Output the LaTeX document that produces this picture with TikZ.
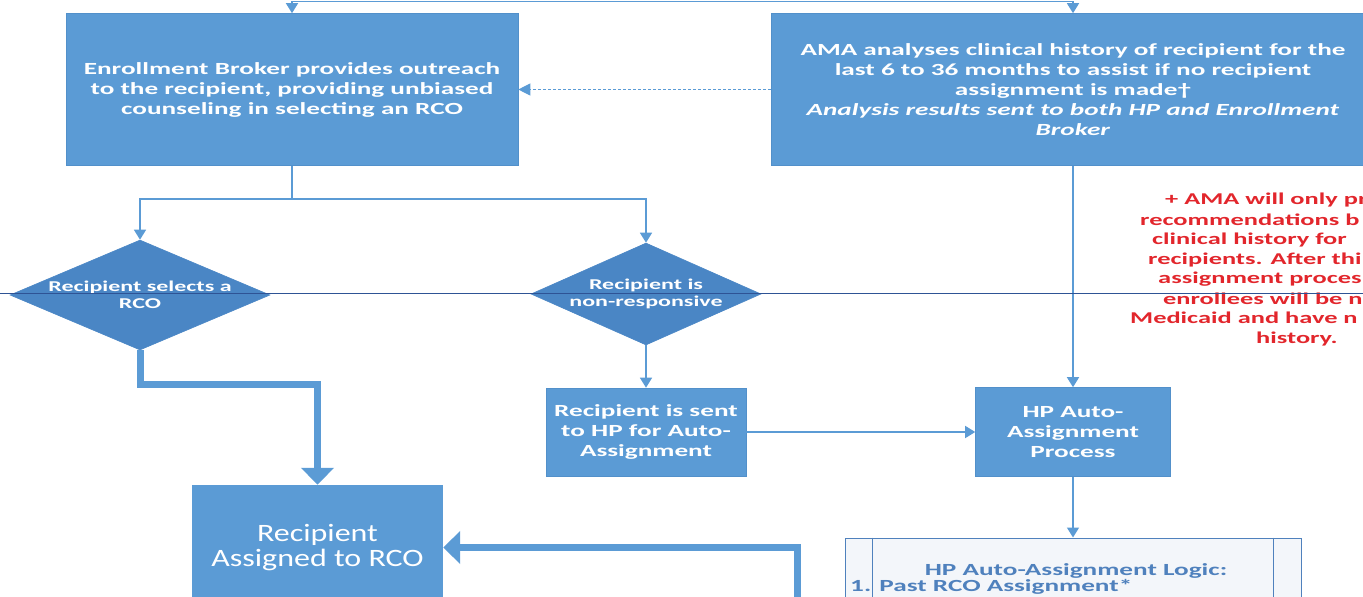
\documentclass[tikz,border=0pt]{standalone}
\usepackage{fontspec}
\usepackage{tikz}
\usetikzlibrary{arrows.meta}
\usetikzlibrary{shapes.geometric}
\setmainfont{Carlito}
\newfontfamily\boxfont[FakeStretch=1.6]{Carlito}
\newfontfamily\bigfont[FakeStretch=1.28]{Carlito}
\definecolor{boxblue}{HTML}{5B9BD5}
\definecolor{boxedge}{HTML}{5290CA}
\definecolor{diamondblue}{HTML}{4A86C5}
\definecolor{lineblue}{HTML}{5B9BD5}
\definecolor{logicblue}{HTML}{4F81BD}
\definecolor{logicfill}{HTML}{F3F6FA}
\definecolor{notered}{HTML}{E2262C}
\definecolor{sepblue}{HTML}{2E5395}

\begin{document}
\begin{tikzpicture}[x=1pt, y=-1pt,
        box_style/.style={rectangle,draw=boxedge,line width=0.6pt,fill=boxblue,text=white,align=center,inner sep=0pt,font=\boxfont\bfseries\fontsize{17}{20}\selectfont},
        decision_style/.style={diamond,draw=diamondblue,line width=0.6pt,fill=diamondblue,text=white,align=center,inner sep=0pt,font=\boxfont\bfseries\fontsize{15}{17}\selectfont},
        big_box_style/.style={rectangle,fill=boxblue,text=white,align=center,inner sep=0pt,font=\bigfont\fontsize{25}{25}\selectfont},
        logic_style/.style={rectangle,draw=logicblue,line width=1pt,fill=logicfill,inner sep=0pt},
        logic_text_style/.style={text=logicblue,inner sep=0pt,font=\boxfont\bfseries\fontsize{17}{20}\selectfont},
        note_style/.style={text=notered,inner sep=0pt,anchor=west,font=\boxfont\bfseries\fontsize{16.5}{20}\selectfont},
        edge_style/.style={draw=lineblue, line width=1.5pt, -{Triangle[width=12pt,length=10pt]}},
        thick_edge_style/.style={draw=lineblue, line width=7pt, -{Triangle[width=32pt,length=17pt]}},
        dashed_edge_style/.style={draw=lineblue, line width=1pt, dash pattern=on 3pt off 2pt, -{Triangle[width=12pt,length=12pt]}},
        line_style/.style={draw=lineblue, line width=1.5pt},
        sep_style/.style={draw=sepblue, line width=1pt}]

        \useasboundingbox (0,0) rectangle (1363,597);
        \clip (0,0) rectangle (1363,597);

        \node [box_style,minimum width=452,minimum height=152] (enroll) at (292,89.5) {Enrollment Broker provides outreach\\to the recipient, providing unbiased\\counseling in selecting an RCO};

        \node [box_style,minimum width=604,minimum height=152] (ama) at (1073,89.5) {AMA analyses clinical history of recipient for the\\last 6 to 36 months to assist if no recipient\\assignment is made\textdagger\\\textit{Analysis results sent to both HP and Enrollment}\\\textit{Broker}};

        \node [decision_style,aspect=2.36,minimum width=260,minimum height=110] (select) at (140,295) {Recipient selects a\\RCO};

        \node [decision_style,aspect=2.25,minimum width=230,minimum height=102] (nonresp) at (646,294) {Recipient is\\non-responsive};

        \node [box_style,minimum width=200,minimum height=88] (sent) at (646,432) {Recipient is sent\\to HP for Auto-\\Assignment};

        \node [box_style,minimum width=195,minimum height=89] (hpauto) at (1073,432) {HP Auto-\\Assignment\\Process};

        \node [big_box_style,minimum width=251,minimum height=125] (assigned) at (317.5,547.5) {Recipient\\Assigned to RCO};

        \node [logic_style,minimum width=456,minimum height=120] (logic) at (1073,598) {};
        \draw [draw=logicblue,line width=1pt] ([xshift=28pt]logic.north west) -- ([xshift=28pt]logic.south west);
        \draw [draw=logicblue,line width=1pt] ([xshift=-28pt]logic.north east) -- ([xshift=-28pt]logic.south east);
        \node [logic_text_style] (logic_title) at (1076,571) {HP Auto-Assignment Logic:};
        \node [logic_text_style,anchor=west] (logic_item) at (850,587) {1. Past RCO Assignment*};

        % red footnote, cut at the right edge
        \node [note_style] (note1) at (1165,200) {+ AMA will only pr};
        \node [note_style] (note2) at (1140,220) {recommendations b};
        \node [note_style] (note3) at (1152,240) {clinical history for};
        \node [note_style] (note4) at (1148,260) {recipients. After thi};
        \node [note_style] (note5) at (1158,279) {assignment proces};
        \node [note_style] (note6) at (1163,299) {enrollees will be n};
        \node [note_style] (note7) at (1130,318) {Medicaid and have n};
        \node [note_style] (note8) at (1256,339) {history.};

        \coordinate (top_join) at (683,1.5);
        \coordinate (split) at (292,199);
        \coordinate (below_in) at (797,610);

        \draw [edge_style] (top_join) -| (enroll.north);
        \draw [edge_style] (top_join) -| (ama.north);
        \draw [line_style] (enroll.south) -- (split);
        \draw [edge_style] (split) -| (select.north);
        \draw [edge_style] (split) -| (nonresp.north);
        \draw [dashed_edge_style] (ama.west) -- (enroll.east);
        \draw [thick_edge_style] (select.south) -- ++(0,34) -| (assigned.north);
        \draw [edge_style] (nonresp.south) -- (sent.north);
        \draw [edge_style] (sent.east) -- (hpauto.west);
        \draw [edge_style] (ama.south) -- (hpauto.north);
        \draw [edge_style] (hpauto.south) -- (logic.north);
        \draw [thick_edge_style] (below_in) |- (assigned.east);

        \draw [sep_style] (0,293) -- (1363,293);

        \end{tikzpicture}
\end{document}
